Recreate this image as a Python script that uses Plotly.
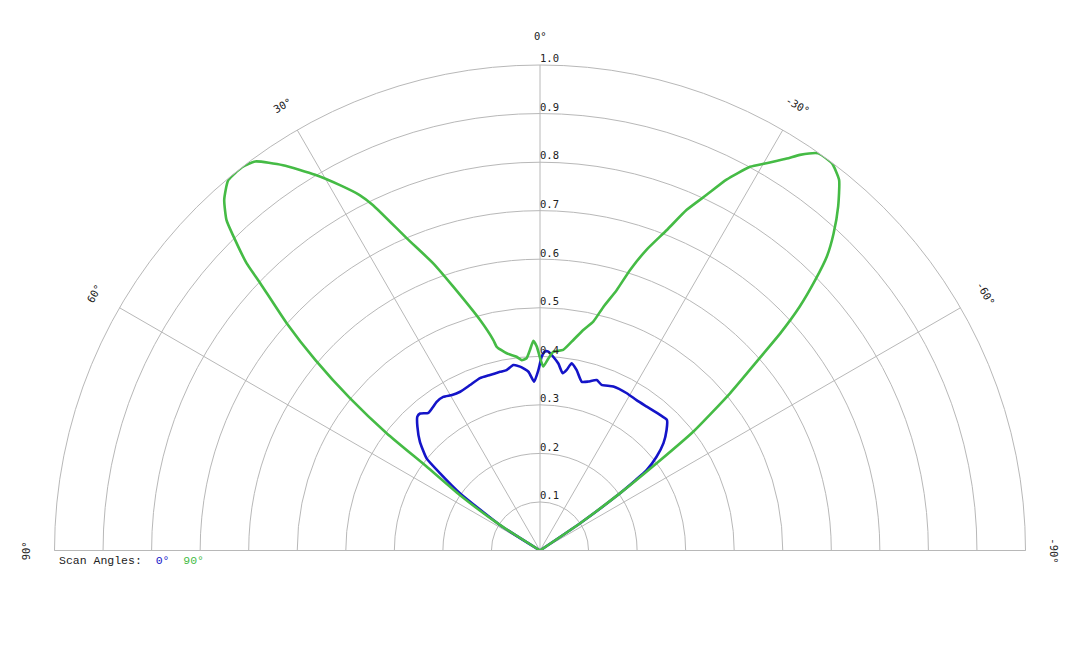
import math
import plotly.graph_objects as go

# scan angle data (theta in degrees, 0 = top, positive to the left)
theta_90 = [-90, -57.5, -55.8, -54.4, -53.2, -52.2, -50.4, -48.6, -47.9, -46.8, -45.5,
            -44.3, -42.8, -40.9, -38.9, -37.0, -35.0, -33.3, -32.2, -30.3, -28.7,
            -26.7, -25.1, -23.3, -21.6, -19.5, -17.8, -16.4, -14.6, -13.1, -11.1,
            -9.0, -6.6, -3.8, -2.5, -1.0, 0.0, 0.9, 1.8, 2.9, 4.0, 5.5, 6.9, 9.6,
            12.0, 12.5, 14.6, 18.2, 20.4, 23.1, 25.8, 26.9, 28.7, 30.9, 33.7, 36.2,
            37.9, 40.1, 42.0, 43.5, 44.3, 45.6, 46.3, 48.1, 49.7, 51.3, 52.6, 53.5,
            55.3, 57.5, 59.5, 90]
r_90 = [0, 0, 0.100, 0.203, 0.300, 0.400, 0.508, 0.614, 0.667, 0.734, 0.795,
        0.846, 0.890, 0.938, 0.981, 0.999, 0.999, 0.975, 0.954, 0.924, 0.901,
        0.855, 0.809, 0.764, 0.710, 0.657, 0.607, 0.559, 0.519, 0.484, 0.463,
        0.439, 0.416, 0.410, 0.396, 0.379, 0.397, 0.420, 0.432, 0.413, 0.397, 0.394, 0.402, 0.412,
        0.429, 0.444, 0.491, 0.572, 0.631, 0.699, 0.790, 0.821, 0.858, 0.902, 0.954, 0.993,
        1.000, 0.997, 0.972, 0.938, 0.904, 0.846, 0.797, 0.701, 0.607, 0.501, 0.397, 0.290,
        0.201, 0.098, 0, 0]

theta_0 = [-90, -57.5, -55.8, -54.6, -53.6, -53.0, -51.2, -49.0, -46.4, -44.2, -41.5,
           -36.6, -32.7, -28.9, -24.1, -20.4, -18.4, -16.0, -13.9, -11.5, -9.6,
           -8.4, -7.3, -5.6, -3.9, -2.4, -1.4, -0.5, 0.5, 2.0, 3.7, 6.2, 8.2,
           10.5, 12.6, 15.9, 19.2, 22.9, 26.7, 29.5, 32.2, 34.8, 36.6, 39.0, 41.2,
           42.5, 44.7, 47.8, 50.9, 52.3, 54.4, 57.5, 59.5, 90]
r_0 = [0, 0, 0.100, 0.190, 0.245, 0.275, 0.308, 0.337, 0.360, 0.375, 0.373,
       0.369, 0.368, 0.370, 0.370, 0.364, 0.370, 0.362, 0.358, 0.379, 0.391,
       0.376, 0.368, 0.387, 0.400, 0.410, 0.410, 0.399, 0.372, 0.348, 0.369, 0.381, 0.386,
       0.378, 0.377, 0.376, 0.376, 0.370, 0.366, 0.368, 0.374, 0.373, 0.369, 0.365, 0.375,
       0.374, 0.359, 0.334, 0.301, 0.260, 0.203, 0.098, 0, 0]

radial_ticks = [0.1, 0.2, 0.3, 0.4, 0.5, 0.6, 0.7, 0.8, 0.9, 1.0]
radial_labels = ["%.1f" % v for v in radial_ticks]
angle_ticks = [-90, -60, -30, 0, 30, 60, 90]
angle_labels = ["-90°", "-60°", "-30°", "0°", "30°", "60°", "90°"]

blue = "#1414c8"
green = "#45bb45"
grid = "#b8b8b8"
txt = "#222222"

fig = go.Figure()
fig.add_trace(go.Scatterpolar(r=r_0, theta=theta_0, mode="lines",
                              line=dict(color=blue, width=2.6, shape="spline", smoothing=0.5),
                              name="0°"))
fig.add_trace(go.Scatterpolar(r=r_90, theta=theta_90, mode="lines",
                              line=dict(color=green, width=2.6, shape="spline", smoothing=0.5),
                              name="90°"))
# radial value labels along the 0° spoke
fig.add_trace(go.Scatterpolar(r=radial_ticks, theta=[0] * len(radial_ticks), mode="text",
                              text=radial_labels, textposition="top right",
                              textfont=dict(family="DejaVu Sans Mono", size=10.5, color=txt),
                              hoverinfo="skip"))

W, H = 1080, 648
cx, cy, R = 532, 542.5, 485.5  # polar centre / radius in pixels (page has 8px body margin)

fig.update_layout(
    width=W, height=H,
    margin=dict(l=0, r=0, t=0, b=0),
    paper_bgcolor="white",
    showlegend=False,
    polar=dict(
        sector=[0, 180],
        domain=dict(x=[(cx - R) / W, (cx + R) / W], y=[1 - cy / H, 1 - (cy - R) / H]),
        bgcolor="white",
        angularaxis=dict(rotation=90, direction="counterclockwise",
                         tickmode="array", tickvals=angle_ticks,
                         showticklabels=False, ticks="",
                         gridcolor=grid, gridwidth=1,
                         showline=True, linecolor=grid, linewidth=1),
        radialaxis=dict(range=[0, 1], angle=90,
                        tickmode="array", tickvals=radial_ticks,
                        showticklabels=False, ticks="", showline=False,
                        gridcolor=grid, gridwidth=1),
    ),
)

# angular labels, rotated along the arc
for a, lab in zip(angle_ticks, angle_labels):
    rl = R * 1.059
    px = cx - rl * math.sin(math.radians(a))
    py = cy - rl * math.cos(math.radians(a))
    fig.add_annotation(x=px / W, y=1 - py / H, xref="paper", yref="paper",
                       xanchor="center", yanchor="middle",
                       text=lab, showarrow=False, textangle=-a,
                       font=dict(family="DejaVu Sans Mono", size=10.5, color=txt))

# scan angle key
fig.add_annotation(x=49 / W, y=1 - 552 / H, xref="paper", yref="paper",
                   xanchor="left", yanchor="middle", showarrow=False,
                   text="Scan Angles:\u00a0\u00a0<span style='color:%s'>0°</span>"
                        "\u00a0\u00a0<span style='color:%s'>90°</span>" % (blue, green),
                   font=dict(family="Liberation Mono", size=11.5, color=txt))

fig.write_html("out.html")
